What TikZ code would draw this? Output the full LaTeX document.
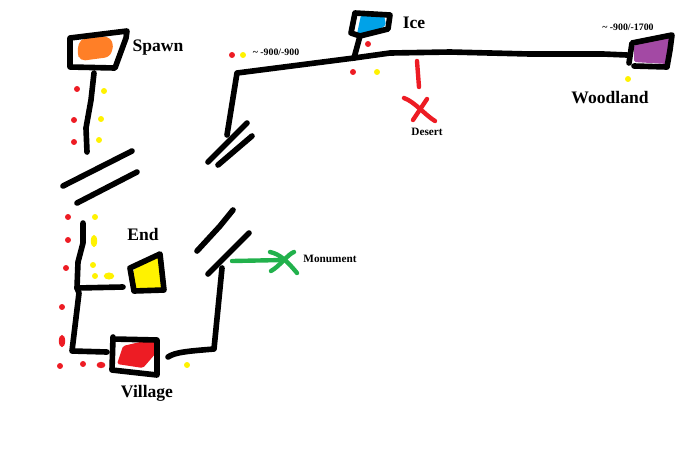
\documentclass[tikz,border=0pt]{standalone}
\usepackage{fontspec}
\setmainfont{Liberation Serif}
\usepackage{tikz}
\usetikzlibrary{positioning,calc,shapes.geometric}
\definecolor{spawnOrange}{RGB}{255,127,39}
\definecolor{iceBlue}{RGB}{0,162,232}
\definecolor{endYellow}{RGB}{255,242,0}
\definecolor{villageRed}{RGB}{237,28,36}
\definecolor{woodPurple}{RGB}{163,73,164}
\definecolor{monumentGreen}{RGB}{34,177,76}

\begin{document}
\begin{tikzpicture}[
        x=0.02cm, y=-0.02cm,
        road/.style={line width=3.2pt, line cap=round, line join=round},
        thinroad/.style={road, line width=2.5pt},
        redmark/.style={fill=villageRed, draw=none, circle, minimum size=3.4pt, inner sep=0pt},
        yellowmark/.style={fill=endYellow, draw=none, circle, minimum size=3.4pt, inner sep=0pt},
        bigname/.style={font=\fontsize{10}{12}\selectfont\bfseries},
        smallname/.style={font=\fontsize{6.4}{8}\selectfont\bfseries},
        coords/.style={font=\fontsize{5.6}{7}\selectfont\bfseries}
      ]
        \useasboundingbox (0,0) rectangle (690,461);
        % Fills
        \fill[spawnOrange, rounded corners=3pt] (80,39) -- (108,36) -- (114,44) -- (110,57) -- (80,61) -- (77,52) -- cycle;
        \fill[iceBlue, rounded corners=1pt] (361,15) -- (384,15) -- (386,25) -- (377,31) -- (357,34) -- cycle;
        \fill[endYellow, rounded corners=1pt] (133,270) -- (160,254) -- (162,290) -- (135,290) -- cycle;
        \fill[villageRed, rounded corners=1pt] (123,346) -- (140,342) -- (157,340) -- (156,353) -- (143,368) -- (117,364) -- cycle;
        \fill[woodPurple, rounded corners=1pt] (634,45) -- (670,34) -- (667,64) -- (634,62) -- cycle;
        % Boxes
        \draw[road] (70,38) -- (127,31) -- (126,38) -- (115,68) -- (70,67) -- cycle;
        \draw[road] (355,13) -- (390,15) -- (388,29) -- (360,36) -- (351,33) -- cycle;
        \draw[road] (130,268) -- (160,254) -- (164,290) -- (134,291) -- cycle;
        \draw[road] (113,337) -- (112,370) -- (157,375) -- (157,340) -- (113,339);
        \draw[road] (629,63) -- (632,43) -- (672,35) -- (670,50) -- (667,67) -- (634,66);
        % Junctions
        \coordinate (spawnfoot) at (94,73);
        \coordinate (spawnend) at (87,152);
        \coordinate (endtop) at (83,223);
        \coordinate (endfork) at (77,288);
        \coordinate (endleg) at (123,287);
        \coordinate (villageleg) at (107,352);
        \coordinate (villageout) at (168,357);
        \coordinate (climb) at (222,268);
        \coordinate (drop) at (227,135);
        \coordinate (icefork) at (354,58);
        \coordinate (icefoot) at (360,36);
        \coordinate (woodleg) at (627,55);
        % Roads
        \draw[road] (spawnfoot) -- (91,100) -- (86,128) -- (spawnend);
        \draw[road] (endtop) -- (83,243) -- (78,262) -- (endfork) -- (79,293) -- (72,351) -- (villageleg);
        \draw[road] (endfork) -- (endleg);
        \draw[road] (villageout) .. controls (175,352) and (190,351) .. (214,349) -- (climb);
        \draw[road] (drop) -- (237,73) -- (icefork);
        \draw[road] (icefork) -- (icefoot);
        \draw[road] (icefork) -- (390,53) -- (450,52) -- (530,54) -- (603,54) -- (woodleg);
        % Breaks
        \draw[road] (63,186) -- (132,151);
        \draw[road] (77,203) -- (137,172);
        \draw[road] (197,251) -- (220,226) -- (233,210);
        \draw[road] (208,274) -- (249,233);
        \draw[road] (208,162) -- (247,123);
        \draw[road] (218,165) -- (252,136);
        % Desert
        \coordinate (desertout) at (417,61);
        \coordinate (desertin) at (419,87);
        \draw[thinroad, villageRed] (desertout) -- (desertin);
        \draw[thinroad, villageRed] (404,98) .. controls (415,102) and (425,115) .. (435,121);
        \draw[thinroad, villageRed] (427,99) -- (413,120);
        % Monument
        \coordinate (monumentout) at (232,261);
        \coordinate (monumentcross) at (283,260);
        \draw[thinroad, monumentGreen] (monumentout) -- (monumentcross);
        \draw[thinroad, monumentGreen] (270,252) .. controls (280,254) and (288,262) .. (297,273);
        \draw[thinroad, monumentGreen] (294,252) .. controls (288,254) and (280,266) .. (271,271);
        % Dots
        \foreach \n/\px/\py in {a/77/89, b/74/120, c/74/142, d/68/217, e/68/240, f/66/268,
            g/62/307, h/60/366, i/83/364, j/232/55, k/368/44, l/353/72}
          \node[redmark] (red\n) at (\px,\py) {};
        \node[redmark, ellipse, minimum width=5pt, minimum height=3.6pt] (redm) at (101,365) {};
        \node[redmark, ellipse, minimum width=3.6pt, minimum height=7pt] (redn) at (62,341) {};
        \foreach \n/\px/\py in {a/104/91, b/101/119, c/99/140, d/95/217, e/93/265, f/95/276,
            g/187/365, h/243/55, i/377/72, j/628/79}
          \node[yellowmark] (yellow\n) at (\px,\py) {};
        \node[yellowmark, minimum width=3.6pt, minimum height=7pt, ellipse] (yellowk) at (94,241) {};
        \node[yellowmark, minimum width=6pt, minimum height=4pt, ellipse] (yellowl) at (109,276) {};
        % Names
        \node[bigname] (spawn) at (158,48) {Spawn};
        \node[bigname] (ice) at (414,23) {Ice};
        \node[bigname] (woodland) at (610,98) {Woodland};
        \node[bigname] (end) at (143,234) {End};
        \node[bigname] (village) at (147,393) {Village};
        \node[smallname] (desert) at (427,132) {Desert};
        \node[smallname] (monument) at (330,259) {Monument};
        \node[coords] (icecoords) at (276,52) {\textasciitilde{} -900/-900};
        \node[coords] (woodcoords) at (628,27) {\textasciitilde{} -900/-1700};
      \end{tikzpicture}
\end{document}
